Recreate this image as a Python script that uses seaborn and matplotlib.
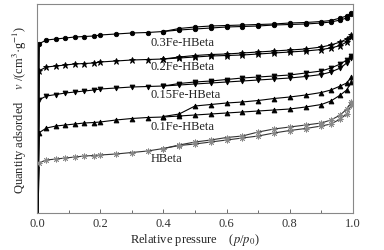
import matplotlib
matplotlib.use("Agg")
import matplotlib.pyplot as plt
import seaborn as sns
import numpy as np

sns.set_style("ticks")
plt.rcParams['font.family'] = ['Liberation Serif', 'DejaVu Serif']
plt.rcParams['mathtext.fontset'] = 'stix'

p_ads = [0.0, 0.005, 0.03, 0.06, 0.09, 0.12, 0.15, 0.18, 0.2, 0.25, 0.3, 0.35, 0.4, 0.45,
         0.5, 0.55, 0.6, 0.65, 0.7, 0.75, 0.8, 0.85, 0.9, 0.93, 0.96, 0.98, 0.995]
p_des = [0.995, 0.98, 0.96, 0.93, 0.9, 0.85, 0.8, 0.75, 0.7, 0.65, 0.6, 0.55, 0.5, 0.45, 0.4]

fe03_ads = [0, 169, 173, 174, 175, 176, 176.5, 177, 178, 179, 180, 180.5, 181.5, 183, 184, 185,
            186, 186.5, 187, 188, 188.5, 189, 190, 191, 193, 195, 199]
fe03_des = [200, 197, 195, 192.5, 191.5, 190.5, 190, 189, 188.5, 188, 187.5, 187, 186, 184.5, 181.5]

fe02_ads = [0, 142, 146, 147, 148, 149, 149.5, 150, 151, 152, 153, 153.5, 154, 155, 156, 157,
            157.5, 158, 159, 160, 161, 162, 163.5, 165, 167.5, 171, 176]
fe02_des = [178, 174, 171, 168, 166, 164, 163, 162, 161, 160, 159, 158.5, 157.5, 156, 154]

fe015_ads = [0, 113, 117, 118.5, 120, 121, 122, 123, 124, 125, 126, 126.5, 127, 128, 129, 130,
             131, 132, 133, 134, 135, 136.5, 138.5, 141, 145, 150, 155]
fe015_des = [157, 153, 149, 145, 142, 140, 138, 137, 136, 135, 133.5, 132, 131, 129.5, 127]

fe01_ads = [0, 80, 85, 87, 88, 89, 90, 90.5, 91, 93, 94.5, 95.5, 96, 97, 98, 99, 100, 101, 102,
            103, 104, 106, 108.5, 112, 118, 123, 131]
fe01_des = [136, 130, 127, 123, 120.5, 118, 116, 114.5, 112.5, 111, 110, 108.5, 107, 99, 96.5]

hbeta_ads = [0, 50, 53, 54, 55, 56, 57, 57.5, 58, 59, 60.5, 62, 64.5, 67.5, 69, 71, 73, 75, 77,
             80, 82.5, 84.5, 87, 89, 94, 99, 108]
hbeta_des = [111, 104, 98, 93, 90, 88, 86, 84, 81, 77, 75.5, 73, 71, 68, 64.5]

labels = ["0.3Fe-HBeta", "0.2Fe-HBeta", "0.15Fe-HBeta", "0.1Fe-HBeta", "HBeta"]
label_y = [171, 147, 119, 87, 55]

series = [
    (fe03_ads, fe03_des, 'o', 'black', 'black', 3.2),
    (fe02_ads, fe02_des, '*', 'black', 'black', 4.5),
    (fe015_ads, fe015_des, 'v', 'black', 'black', 3.5),
    (fe01_ads, fe01_des, '^', 'black', 'black', 3.5),
    (hbeta_ads, hbeta_des, (8, 2, 0), '#333333', '#888888', 4.2),
]

fig = plt.figure(figsize=(3.84, 2.51), dpi=100)
ax = fig.add_axes([37/384, 1-214/251, 316/384, 209/251])

for ads, des, m, lc, mc, ms in series:
    # vertical rise at p = 0 (thick)
    sns.lineplot(x=p_ads[:2], y=ads[:2], sort=False, ax=ax, color='black', linewidth=2.0)
    sns.lineplot(x=p_ads[1:], y=ads[1:], sort=False, ax=ax, color=lc, linewidth=0.8,
                 marker=m, markersize=ms, markeredgecolor=mc, markerfacecolor=mc,
                 markeredgewidth=0.6)
    sns.lineplot(x=p_des, y=des, sort=False, ax=ax, color=lc, linewidth=0.8,
                 marker=m, markersize=ms, markeredgecolor=mc, markerfacecolor=mc,
                 markeredgewidth=0.6)

for lab, ly in zip(labels, label_y):
    ax.text(0.36, ly, lab, fontsize=9, va='center', ha='left', color='#222222')

ax.set_xlim(0, 1.0)
ax.set_ylim(0, 209)
ax.set_xticks([0.0, 0.2, 0.4, 0.6, 0.8, 1.0])
ax.set_xticklabels(["0.0", "0.2", "0.4", "0.6", "0.8", "1.0"])
ax.set_xticks(np.arange(0.1, 1.0, 0.2), minor=True)
ax.set_yticks([])
ax.tick_params(axis='x', which='major', direction='in', length=3, width=0.6,
               labelsize=9, pad=3, color='#555555', labelcolor='#333333')
ax.tick_params(axis='x', which='minor', direction='in', length=2, width=0.6, color='#555555')
for s in ax.spines.values():
    s.set_color('#888888')
    s.set_linewidth(0.8)

ax.set_xlabel(r"Relative pressure    ($p$/$p_0$)", fontsize=9, labelpad=1, color='#222222')
ax.set_ylabel(r"Quantity adsorded    $v$ /(cm$^3$·g$^{-1}$)", fontsize=9, labelpad=6,
              color='#222222')

fig.savefig("out.png", dpi=100)
